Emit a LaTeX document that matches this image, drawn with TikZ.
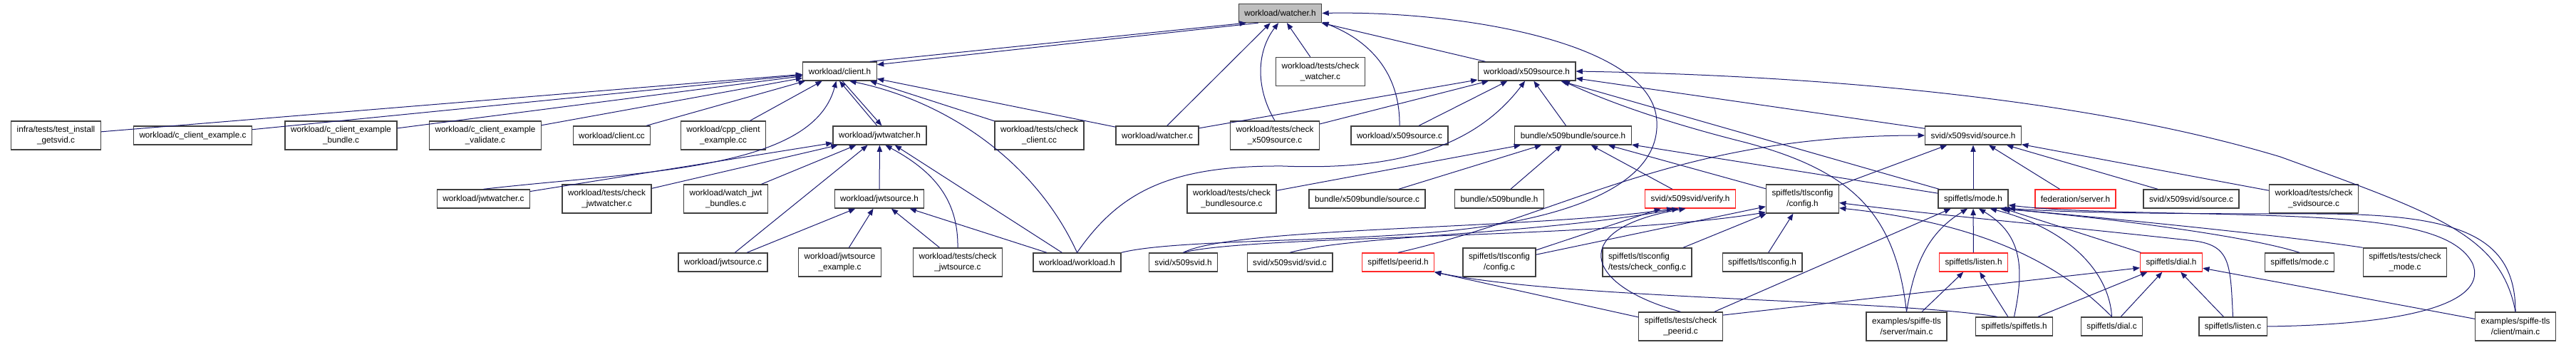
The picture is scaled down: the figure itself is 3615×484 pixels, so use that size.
\documentclass[tikz,border=0pt]{standalone}
\usepackage{fontspec}
\setmainfont{Liberation Sans}
\usepackage{tikz}
\usetikzlibrary{arrows.meta,positioning}
\definecolor{edgeblue}{RGB}{25,25,112}
\definecolor{rootgray}{RGB}{191,191,191}
\definecolor{framegray}{RGB}{64,64,64}
\definecolor{cutred}{RGB}{255,40,40}

\begin{document}
\begin{tikzpicture}[x=0.75pt, y=-0.75pt,
  file/.style={draw=framegray, line width=1pt, fill=white, inner xsep=6pt,
               inner ysep=0pt, minimum height=19.5pt, align=center,
               font=\fontsize{8.8}{11.2}\selectfont},
  twoline/.style={file, minimum height=30pt},
  root/.style={fill=rootgray},
  cut/.style={draw=cutred},
  dep/.style={draw=edgeblue, line width=0.75pt,
              -{Triangle[length=7pt,width=5.5pt]}}]
  \useasboundingbox (0,0) rectangle (3615,484);

  % row 0 and 1
  \node[file, root] (watcher) at (1796.5,18.5) {workload/watcher.h};
  \node[file] (clienth) at (1178.5,100) {workload/client.h};
  \node[file] (x509srch) at (2142.5,100) {workload/x509source.h};
  \node[twoline] (chkwatcher) at (1853,100.5) {workload/tests/check\\\_watcher.c};

  % row 2
  \node[twoline] (getsvid) at (78.5,190) {infra/tests/test\_install\\\_getsvid.c};
  \node[file] (cexample) at (270.5,190) {workload/c\_client\_example.c};
  \node[twoline] (cbundle) at (478.5,190) {workload/c\_client\_example\\\_bundle.c};
  \node[twoline] (cvalidate) at (681,190) {workload/c\_client\_example\\\_validate.c};
  \node[file] (clientcc) at (858.5,190) {workload/client.cc};
  \node[twoline] (cppexample) at (1015,190) {workload/cpp\_client\\\_example.cc};
  \node[file] (jwtwatcherh) at (1234.5,190) {workload/jwtwatcher.h};
  \node[twoline] (chkclient) at (1458.5,190) {workload/tests/check\\\_client.cc};
  \node[file] (watcherc) at (1624,190) {workload/watcher.c};
  \node[twoline] (chkx509src) at (1789,190) {workload/tests/check\\\_x509source.c};
  \node[file] (x509srcc) at (1964,190) {workload/x509source.c};
  \node[file] (bundlesrch) at (2207.5,190) {bundle/x509bundle/source.h};
  \node[file] (svidsrch) at (2769,190) {svid/x509svid/source.h};

  % row 3
  \node[file] (jwtwatcherc) at (678.5,279) {workload/jwtwatcher.c};
  \node[twoline] (chkjwtwatcher) at (851.5,279) {workload/tests/check\\\_jwtwatcher.c};
  \node[twoline] (watchjwt) at (1018.5,279) {workload/watch\_jwt\\\_bundles.c};
  \node[file] (jwtsrch) at (1234,279) {workload/jwtsource.h};
  \node[twoline] (chkbundlesrc) at (1728.5,279) {workload/tests/check\\\_bundlesource.c};
  \node[file] (bundlesrcc) at (1918.5,279) {bundle/x509bundle/source.c};
  \node[file] (x509bundleh) at (2104,279) {bundle/x509bundle.h};
  \node[file, cut] (verifyh) at (2372,279) {svid/x509svid/verify.h};
  \node[twoline] (configh) at (2529.5,279) {spiffetls/tlsconfig\\/config.h};
  \node[file] (modeh) at (2769,279) {spiffetls/mode.h};
  \node[file, cut] (fedserverh) at (2912.5,279) {federation/server.h};
  \node[file] (svidsrcc) at (3075,279) {svid/x509svid/source.c};
  \node[twoline] (chksvidsrc) at (3247,279) {workload/tests/check\\\_svidsource.c};

  % row 4
  \node[file] (jwtsrcc) at (1014.5,368) {workload/jwtsource.c};
  \node[twoline] (jwtsrcexample) at (1178.5,368) {workload/jwtsource\\\_example.c};
  \node[twoline] (chkjwtsrc) at (1344,368) {workload/tests/check\\\_jwtsource.c};
  \node[file] (workloadh) at (1511.5,368) {workload/workload.h};
  \node[file] (x509svidh) at (1660.5,368) {svid/x509svid.h};
  \node[file] (svidc) at (1810,368) {svid/x509svid/svid.c};
  \node[file, cut] (peeridh) at (1962,368) {spiffetls/peerid.h};
  \node[twoline] (configc) at (2104,368) {spiffetls/tlsconfig\\/config.c};
  \node[twoline, align=left] (chkconfig) at (2311.5,368) {spiffetls/tlsconfig\\/tests/check\_config.c};
  \node[file] (tlsconfigh) at (2473,368) {spiffetls/tlsconfig.h};
  \node[file, cut] (listenh) at (2769.5,368) {spiffetls/listen.h};
  \node[file, cut] (dialh) at (3047,368) {spiffetls/dial.h};
  \node[file] (modec) at (3227,368) {spiffetls/mode.c};
  \node[twoline] (chkmode) at (3375,368) {spiffetls/tests/check\\\_mode.c};

  % row 5
  \node[twoline] (chkpeerid) at (2358.5,458) {spiffetls/tests/check\\\_peerid.c};
  \node[twoline] (servermain) at (2675.5,458) {examples/spiffe-tls\\/server/main.c};
  \node[file] (spiffetlsh) at (2826.5,458) {spiffetls/spiffetls.h};
  \node[file] (dialc) at (2963.5,458) {spiffetls/dial.c};
  \node[file] (listenc) at (3133.5,458) {spiffetls/listen.c};
  \node[twoline] (clientmain) at (3530,458) {examples/spiffe-tls\\/client/main.c};

  % straight includes
  \foreach \src/\dst in {getsvid/clienth, cexample/clienth, cbundle/clienth,
      cvalidate/clienth, clientcc/clienth, cppexample/clienth, chkclient/clienth,
      watcherc/clienth, watcherc/watcher, chkwatcher/watcher, x509srch/watcher,
      watcherc/x509srch, chkx509src/x509srch, x509srcc/x509srch,
      bundlesrch/x509srch, svidsrch/x509srch, modeh/x509srch,
      jwtwatcherc/jwtwatcherh, chkjwtwatcher/jwtwatcherh, watchjwt/jwtwatcherh,
      jwtsrch/jwtwatcherh, jwtsrcc/jwtwatcherh, workloadh/jwtwatcherh,
      jwtsrcc/jwtsrch, jwtsrcexample/jwtsrch, chkjwtsrc/jwtsrch, workloadh/jwtsrch,
      chkbundlesrc/bundlesrch, bundlesrcc/bundlesrch, x509bundleh/bundlesrch,
      verifyh/bundlesrch, configh/bundlesrch, modeh/bundlesrch,
      configh/svidsrch, modeh/svidsrch, fedserverh/svidsrch, svidsrcc/svidsrch,
      chksvidsrc/svidsrch, configc/verifyh, configc/configh, chkconfig/configh,
      tlsconfigh/configh, listenh/modeh, dialh/modeh, chkpeerid/modeh,
      servermain/listenh, spiffetlsh/listenh, spiffetlsh/dialh, dialc/dialh,
      listenc/dialh, clientmain/dialh}
    \draw[dep] (\src) -- (\dst);

  % cycles
  \draw[dep] (clienth.18) -- (watcher.196);
  \draw[dep] (watcher.204) -- (clienth.10);
  \draw[dep] (jwtwatcherh.105) -- (clienth.-92);
  \draw[dep] (clienth.-75) -- (jwtwatcherh.78);

  % curved includes
  \draw[dep] (jwtwatcherc.north) .. controls (900,240) and (1140,240) .. (clienth.-110);
  \draw[dep] (workloadh.north) .. controls (1450,220) and (1320,140) .. (clienth.-45);
  \draw[dep] (workloadh.north) .. controls (1570,270) and (1640,232) .. (1800,233)
    .. controls (1930,238) and (2060,220) .. (x509srch.-100);
  \draw[dep] (workloadh.north east) .. controls (1650,335) and (1900,340) .. (2050,322)
    .. controls (2200,305) and (2330,260) .. (2325,170)
    .. controls (2320,60) and (2050,15) .. (watcher.east);
  \draw[dep] (chkjwtsrc.north) .. controls (1345,280) and (1310,240) .. (jwtwatcherh.-60);
  \draw[dep] (chkx509src.north) .. controls (1760,120) and (1765,70) .. (watcher.-100);
  \draw[dep] (x509srcc.north) .. controls (1965,110) and (1930,60) .. (watcher.-12);
  \draw[dep] (x509svidh.north) .. controls (1730,318) and (2150,322) .. (verifyh.-150);
  \draw[dep] (x509svidh.north) .. controls (1750,330) and (2250,335) .. (configh.-160);
  \draw[dep] (svidc.north) .. controls (1900,330) and (2150,330) .. (verifyh.-140);
  \draw[dep] (peeridh.north) .. controls (2200,300) and (2350,190) .. (svidsrch.west);
  \draw[dep] (chkpeerid.north) .. controls (2220,400) and (2200,320) .. (verifyh.-115);
  \draw[dep] (chkpeerid) -- (peeridh.-15);
  \draw[dep] (chkpeerid.15) -- (dialh.190);
  \draw[dep] (spiffetlsh.150) .. controls (2650,420) and (2200,420) .. (peeridh.-15);
  \draw[dep] (servermain.north) .. controls (2660,300) and (2600,240) .. (2450,200)
    .. controls (2330,170) and (2250,140) .. (x509srch.-15);
  \draw[dep] (clientmain.north) .. controls (3510,330) and (3420,300) .. (3200,220)
    .. controls (2900,130) and (2500,105) .. (x509srch.east);
  \draw[dep] (clientmain.north) .. controls (3530,330) and (3450,300) .. (3250,300)
    .. controls (3000,300) and (2900,298) .. (modeh.-15);
  \draw[dep] (listenc.east) .. controls (3400,455) and (3490,420) .. (3470,370)
    .. controls (3440,310) and (3300,305) .. (3100,300)
    .. controls (2950,297) and (2880,295) .. (modeh.-10);
  \draw[dep] (modec.north) .. controls (3150,330) and (2950,305) .. (modeh.-20);
  \draw[dep] (chkmode.north west) .. controls (3200,330) and (3000,310) .. (modeh.-18);
  \draw[dep] (spiffetlsh.north) .. controls (2840,380) and (2840,330) .. (modeh.-60);
  \draw[dep] (dialc.north) .. controls (2960,380) and (2900,320) .. (modeh.-30);
  \draw[dep] (servermain.north) .. controls (2685,380) and (2700,330) .. (modeh.-120);
  \draw[dep] (dialc.north) .. controls (2900,380) and (2800,315) .. (configh.-14);
  \draw[dep] (listenc.north) .. controls (3130,370) and (3130,345) .. (3080,338)
    .. controls (2900,318) and (2700,300) .. (configh.-6);
\end{tikzpicture}
\end{document}
